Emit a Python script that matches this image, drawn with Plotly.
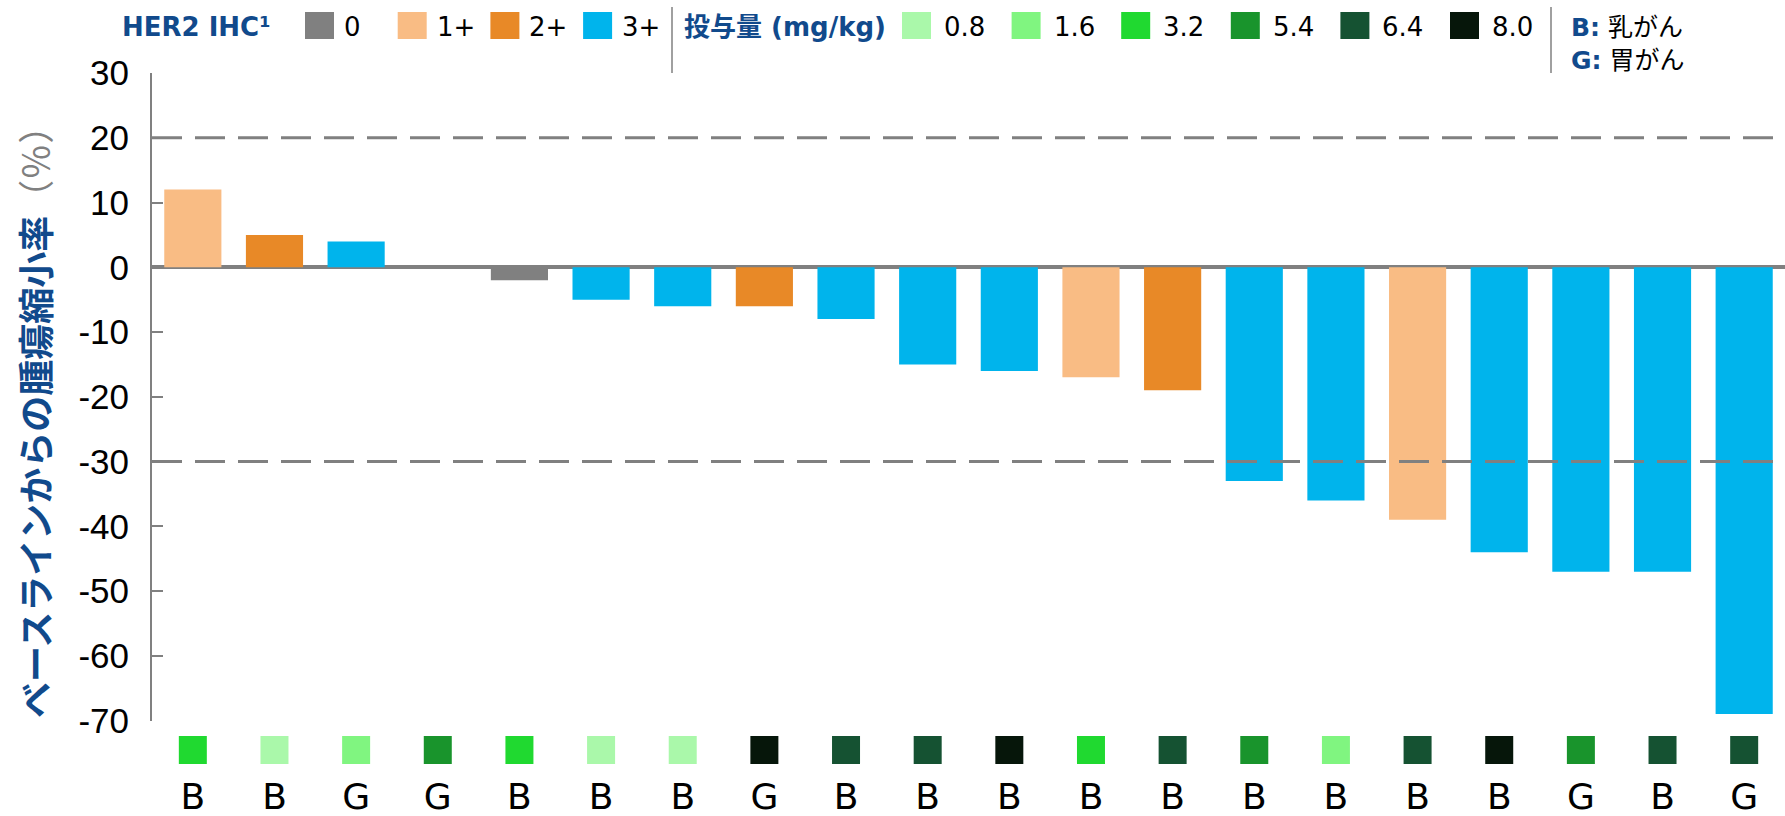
import plotly.graph_objects as go

# ---------------- data ----------------
cancer = ["B", "B", "G", "G", "B", "B", "B", "G", "B", "B",
          "B", "B", "B", "B", "B", "B", "B", "G", "B", "G"]
change_pct = [12, 5, 4, 0, -2, -5, -6, -6, -8, -15,
              -16, -17, -19, -33, -36, -39, -44, -47, -47, -69]
her2 = ["1+", "2+", "3+", "3+", "0", "3+", "3+", "2+", "3+", "3+",
        "3+", "1+", "2+", "3+", "3+", "1+", "3+", "3+", "3+", "3+"]
dose = ["3.2", "0.8", "1.6", "5.4", "3.2", "0.8", "0.8", "8.0", "6.4", "6.4",
        "8.0", "3.2", "6.4", "5.4", "1.6", "6.4", "8.0", "5.4", "6.4", "6.4"]

her2_levels = ["0", "1+", "2+", "3+"]
her2_colors = {"0": "#808080", "1+": "#f9bc84", "2+": "#e88927", "3+": "#00b4ec"}
dose_levels = ["0.8", "1.6", "3.2", "5.4", "6.4", "8.0"]
dose_colors = {"0.8": "#aaf8aa", "1.6": "#80f580", "3.2": "#20d930",
               "5.4": "#19942c", "6.4": "#155232", "8.0": "#06160a"}
ytick_vals = [30, 20, 10, 0, -10, -20, -30, -40, -50, -60, -70]
ytick_text = ["30", "20", "10", "0", "-10", "-20", "-30", "-40", "-50", "-60", "-70"]
ref_lines = [20, -30]

BLUE = "#114a8c"
GRAY = "#808080"
LATIN = "DejaVu Sans, Noto Sans CJK JP"

W, H = 1785, 816
ML, MR, MT, MB = 152, 0, 73, 0
PW = W - ML - MR
PH = H - MT - MB
AX_BOTTOM = 720.6          # pixel row of y = -70
strip_frac = (H - AX_BOTTOM) / PH


def px(x):
    return (x - ML) / PW


def py(y):
    return (H - MB - y) / PH


idx = list(range(len(change_pct)))

fig = go.Figure()
fig.add_trace(go.Bar(
    x=idx, y=change_pct,
    marker=dict(color=[her2_colors[h] for h in her2], line=dict(width=0)),
    showlegend=False, hoverinfo="y",
))
# dose squares under each bar (strip subplot, y2 in pixel units from bottom)
fig.add_trace(go.Scatter(
    x=idx, y=[H - 750] * len(idx), yaxis="y2", mode="markers",
    marker=dict(symbol="square", size=28, color=[dose_colors[d] for d in dose],
                line=dict(width=0)),
    showlegend=False, hoverinfo="skip",
))
# cancer type letters
fig.add_trace(go.Scatter(
    x=idx, y=[H - 800] * len(idx), yaxis="y2", mode="text", text=cancer,
    textposition="middle center",
    textfont=dict(family="DejaVu Sans", size=36, color="#000000"),
    showlegend=False, hoverinfo="skip",
))

shapes = []
for v in ref_lines:
    shapes.append(dict(type="line", xref="paper", yref="y", x0=0, x1=1, y0=v, y1=v,
                       line=dict(color=GRAY, width=3, dash="30px,13px"), layer="above"))

annotations = []
# y title
annotations.append(dict(
    xref="paper", yref="paper", x=px(34), y=py(413), xanchor="center", yanchor="middle",
    textangle=-90, showarrow=False,
    text="<b>ベースラインからの腫瘍縮小率</b><span style='color:#808080'>（％）</span>",
    font=dict(family="Noto Sans CJK JP", size=36, color=BLUE),
))

LEG_Y0, LEG_Y1, LEG_YC = 12, 39, 27
LEG_FONT = dict(family=LATIN, size=26, color="#000000")
# HER2 legend
annotations.append(dict(xref="paper", yref="paper", x=px(120), y=py(LEG_YC), xanchor="left",
                        yanchor="middle", showarrow=False, text="<b>HER2 IHC¹</b>",
                        font=dict(family=LATIN, size=26, color=BLUE)))
for i, lv in enumerate(her2_levels):
    x0 = 305 + i * 92.7
    shapes.append(dict(type="rect", xref="paper", yref="paper", x0=px(x0), x1=px(x0 + 29),
                       y0=py(LEG_Y1), y1=py(LEG_Y0), fillcolor=her2_colors[lv], line=dict(width=0)))
    annotations.append(dict(xref="paper", yref="paper", x=px(x0 + 37), y=py(LEG_YC),
                            xanchor="left", yanchor="middle", showarrow=False, text=lv, font=LEG_FONT))
# separators
for sx in [672, 1551]:
    shapes.append(dict(type="line", xref="paper", yref="paper", x0=px(sx), x1=px(sx),
                       y0=py(73), y1=py(7), line=dict(color=GRAY, width=1.5)))
# dose legend
annotations.append(dict(xref="paper", yref="paper", x=px(682), y=py(LEG_YC), xanchor="left",
                        yanchor="middle", showarrow=False, text="<b>投与量 (mg/kg)</b>",
                        font=dict(family=LATIN, size=26, color=BLUE)))
for i, lv in enumerate(dose_levels):
    x0 = 902 + i * 109.6
    shapes.append(dict(type="rect", xref="paper", yref="paper", x0=px(x0), x1=px(x0 + 29),
                       y0=py(LEG_Y1), y1=py(LEG_Y0), fillcolor=dose_colors[lv], line=dict(width=0)))
    annotations.append(dict(xref="paper", yref="paper", x=px(x0 + 40), y=py(LEG_YC),
                            xanchor="left", yanchor="middle", showarrow=False, text=lv, font=LEG_FONT))
# cancer key
for label, name, yc in [("B:", "乳がん", 28), ("G:", "胃がん", 60)]:
    annotations.append(dict(
        xref="paper", yref="paper", x=px(1569), y=py(yc), xanchor="left", yanchor="middle",
        showarrow=False,
        text="<b><span style='color:%s'>%s</span></b> %s" % (BLUE, label, name),
        font=dict(family=LATIN, size=25, color="#000000")))

fig.update_layout(
    width=W, height=H,
    showlegend=False,
    margin=dict(l=ML, r=MR, t=MT, b=MB, pad=0, autoexpand=False),
    plot_bgcolor="white", paper_bgcolor="white",
    bargap=0.3,
    shapes=shapes, annotations=annotations,
    xaxis=dict(range=[-0.5, len(idx) - 0.5], visible=False, fixedrange=True),
    yaxis=dict(domain=[strip_frac, 1], range=[-70, 30], tickvals=ytick_vals, ticktext=ytick_text,
               showgrid=False, showline=True, linecolor=GRAY, linewidth=2,
               ticks="inside", ticklen=11, tickcolor=GRAY, tickwidth=1.5,
               ticklabelstandoff=14,
               tickfont=dict(family="Liberation Sans", size=35, color="#000000"),
               zeroline=True, zerolinecolor=GRAY, zerolinewidth=4, fixedrange=True),
    yaxis2=dict(domain=[0, strip_frac], range=[0, H - AX_BOTTOM], visible=False,
                fixedrange=True),
)

fig.write_html("out.html", config={"displayModeBar": False},
               post_script="document.body.style.margin='0px';")
